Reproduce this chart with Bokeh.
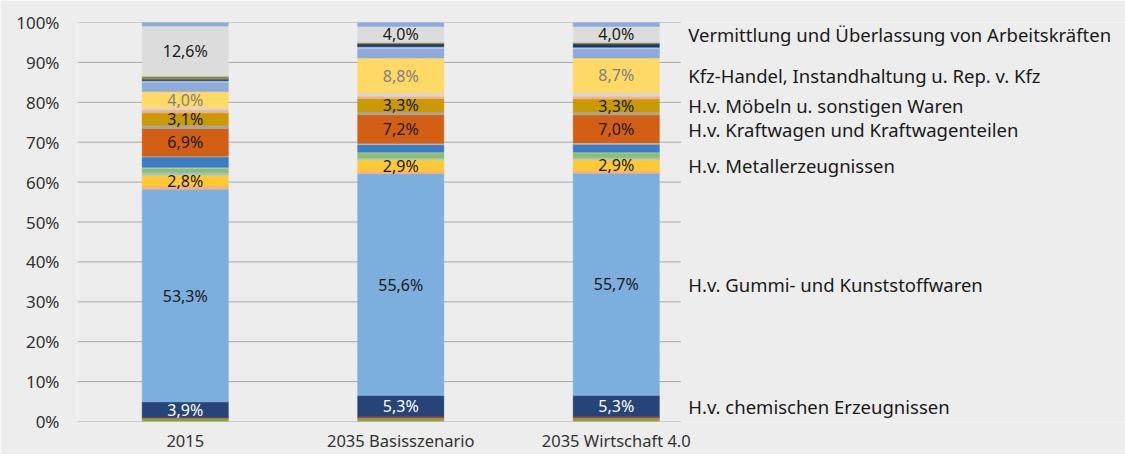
from bokeh.plotting import figure
from bokeh.models import ColumnDataSource, Range1d, FixedTicker
from bokeh.core.properties import value
from bokeh.embed import file_html
from bokeh.resources import INLINE

# ---------------- data ----------------
categories = ["2015", "2035 Basisszenario", "2035 Wirtschaft 4.0"]

series_names = [
    "Übrige 1", "Übrige 2", "Übrige 3",
    "H.v. chemischen Erzeugnissen",
    "H.v. Gummi- und Kunststoffwaren",
    "Übrige 4",
    "H.v. Metallerzeugnissen",
    "Übrige 5", "Übrige 6", "Übrige 7", "Übrige 8", "Übrige 9",
    "H.v. Kraftwagen und Kraftwagenteilen",
    "Übrige 10",
    "H.v. Möbeln u. sonstigen Waren",
    "Übrige 11", "Übrige 12",
    "Kfz-Handel, Instandhaltung u. Rep. v. Kfz",
    "Übrige 13", "Übrige 14", "Übrige 15", "Übrige 16",
    "Vermittlung und Überlassung von Arbeitskräften",
    "Übrige 17",
]

values_2015 = [0.6, 0.2, 0.2, 3.9, 53.3, 0.8, 2.8, 0.6, 1.1, 0.2, 2.6, 0.2,
               6.9, 0.8, 3.1, 0.8, 0.6, 4.0, 2.3, 0.4, 0.4, 0.7, 12.6, 0.9]
values_basis = [0.6, 0.3, 0.3, 5.3, 55.6, 0.6, 2.9, 0.4, 1.3, 0.2, 1.9, 0.3,
                7.2, 0.7, 3.3, 0.6, 0.8, 8.8, 2.4, 0.4, 0.7, 0.4, 4.0, 1.0]
values_w40 = [0.6, 0.3, 0.3, 5.3, 55.7, 0.6, 2.9, 0.4, 1.2, 0.2, 2.0, 0.3,
              7.0, 0.7, 3.3, 0.7, 0.9, 8.7, 2.3, 0.4, 0.8, 0.4, 4.0, 1.0]

labeled_series = [
    "H.v. chemischen Erzeugnissen",
    "H.v. Gummi- und Kunststoffwaren",
    "H.v. Metallerzeugnissen",
    "H.v. Kraftwagen und Kraftwagenteilen",
    "H.v. Möbeln u. sonstigen Waren",
    "Kfz-Handel, Instandhaltung u. Rep. v. Kfz",
    "Vermittlung und Überlassung von Arbeitskräften",
]

y_ticks = [0, 10, 20, 30, 40, 50, 60, 70, 80, 90, 100]

# ---------------- styles ----------------
colors = [
    "#70ad47", "#ed7d31", "#a5502a", "#264478", "#7cafdd", "#f4b183",
    "#ffc935", "#9dc3e6", "#8cc06b", "#c9c9c9", "#3a7dc4", "#c9c9c9",
    "#d35f14", "#a5a5a5", "#c99a06", "#f4b183", "#d6d6d6", "#ffd966",
    "#8faadc", "#b4c7e7", "#1f3864", "#8a8a4a", "#dcdcdc", "#8faadc",
]
label_text_color = {
    "H.v. chemischen Erzeugnissen": "#ffffff",
    "Kfz-Handel, Instandhaltung u. Rep. v. Kfz": "#7f7f7f",
}
BG = "#ededed"
FONT = "Noto Sans"

all_values = [values_2015, values_basis, values_w40]
xs = list(range(len(categories)))

data = {"x": xs}
for i, name in enumerate(series_names):
    data[name] = [vals[i] for vals in all_values]
source = ColumnDataSource(data)

p = figure(width=1125, height=454, output_backend="svg", toolbar_location=None,
           x_range=Range1d(-0.5, 4.363), y_range=Range1d(0, 100),
           min_border_left=77, min_border_right=0, min_border_top=22,
           min_border_bottom=32)
p.background_fill_color = BG
p.border_fill_color = BG
p.outline_line_color = None
p.xgrid.visible = False
p.ygrid.visible = False

# grid lines (only across the bar area)
x_left, x_right = -0.5, 2.3
p.segment(x0=[x_left] * len(y_ticks), x1=[x_right] * len(y_ticks),
          y0=y_ticks, y1=y_ticks, line_color="#a8a8a8", line_width=1)

p.vbar_stack(series_names, x="x", width=0.4, source=source,
             color=colors, line_width=0.5)

# in-bar labels
lx, ly, lt, lc = [], [], [], []
for ci, vals in enumerate(all_values):
    cum = 0.0
    for i, name in enumerate(series_names):
        v = vals[i]
        if name in labeled_series:
            lx.append(xs[ci])
            ly.append(cum + v / 2)
            lt.append(f"{v:.1f}".replace(".", ",") + "%")
            lc.append(label_text_color.get(name, "#1a1a1a"))
        cum += v
p.text(x="x", y="y", text="t", text_color="c",
       source=ColumnDataSource(dict(x=lx, y=ly, t=lt, c=lc)),
       text_align="center", text_baseline="middle",
       text_font=value(FONT), text_font_size="16px")

# right-hand category labels, aligned with last bar
rx, ry, rt = [], [], []
cum = 0.0
last = all_values[-1]
for i, name in enumerate(series_names):
    if name in labeled_series:
        rx.append(2.334)
        ry.append(cum + last[i] / 2)
        rt.append(name)
    cum += last[i]
p.text(x="x", y="y", text="t", source=ColumnDataSource(dict(x=rx, y=ry, t=rt)),
       text_align="left", text_baseline="middle", text_color="#1a1a1a",
       text_font=value(FONT), text_font_size="18.5px")

# axes
p.yaxis.ticker = FixedTicker(ticks=y_ticks)
p.yaxis.major_label_overrides = {t: f"{t}%" for t in y_ticks}
p.yaxis.axis_line_color = None
p.yaxis.major_tick_line_color = None
p.yaxis.minor_tick_line_color = None
p.yaxis.major_tick_out = 0
p.yaxis.major_tick_in = 0
p.yaxis.major_label_standoff = 18
p.yaxis.major_label_text_font = FONT
p.yaxis.major_label_text_font_size = "17px"
p.yaxis.major_label_text_color = "#333333"

p.xaxis.ticker = FixedTicker(ticks=xs)
p.xaxis.major_label_overrides = {x: c for x, c in zip(xs, categories)}
p.xaxis.axis_line_color = None
p.xaxis.major_tick_line_color = None
p.xaxis.minor_tick_line_color = None
p.xaxis.major_tick_out = 0
p.xaxis.major_tick_in = 0
p.xaxis.major_label_standoff = 7
p.xaxis.major_label_text_font = FONT
p.xaxis.major_label_text_font_size = "16.5px"
p.xaxis.major_label_text_color = "#333333"

open("out.html", "w").write(file_html(p, INLINE))
